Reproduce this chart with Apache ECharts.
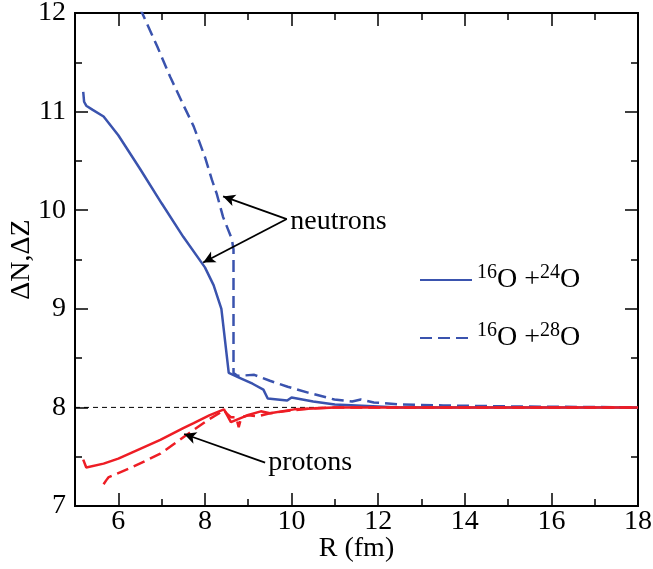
<!DOCTYPE html>
<html>
<head>
<meta charset="utf-8">
<script src="https://cdn.jsdelivr.net/npm/echarts@6/dist/echarts.min.js"></script>
<style>
html,body{margin:0;padding:0;background:#fff;}
#chart{width:653px;height:569px;}
</style>
</head>
<body>
<div id="chart"></div>
<script>
// ---- data ----
const R_n24  = [5.19, 5.21, 5.26, 5.40, 5.66, 6.00, 6.50, 7.00, 7.50, 8.00, 8.20, 8.38, 8.55, 8.80, 9.10, 9.35, 9.45, 9.90, 10.00, 10.50, 11.00, 11.50, 12.00, 12.50, 18.00];
const dN_24  = [11.20, 11.10, 11.06, 11.02, 10.95, 10.76, 10.42, 10.07, 9.73, 9.42, 9.24, 9.00, 8.35, 8.30, 8.24, 8.18, 8.09, 8.07, 8.10, 8.06, 8.03, 8.02, 8.01, 8.00, 8.00];

const R_n28  = [6.50, 6.90, 7.20, 7.50, 7.74, 8.00, 8.16, 8.27, 8.42, 8.62, 8.66, 8.66, 8.75, 9.14, 9.50, 9.91, 10.38, 10.99, 11.40, 11.60, 11.90, 12.50, 13.50, 15.00, 18.00];
const dN_28  = [12.05, 11.66, 11.35, 11.07, 10.85, 10.54, 10.31, 10.17, 9.93, 9.71, 9.60, 8.35, 8.32, 8.33, 8.27, 8.21, 8.15, 8.08, 8.06, 8.08, 8.05, 8.03, 8.02, 8.01, 8.00];

const R_p24  = [5.19, 5.26, 5.66, 6.00, 6.35, 6.97, 7.50, 7.74, 8.10, 8.44, 8.60, 8.98, 9.29, 9.50, 10.06, 10.50, 11.00, 12.00, 18.00];
const dZ_24  = [7.47, 7.39, 7.43, 7.48, 7.55, 7.67, 7.79, 7.84, 7.92, 7.98, 7.85, 7.92, 7.96, 7.94, 7.98, 7.99, 8.00, 8.00, 8.00];

const R_p28  = [5.66, 5.72, 5.77, 6.35, 6.97, 7.51, 8.06, 8.44, 8.52, 8.60, 8.72, 8.78, 8.84, 9.00, 9.22, 9.50, 10.00, 10.50, 11.00, 12.00, 18.00];
const dZ_28  = [7.22, 7.26, 7.29, 7.40, 7.53, 7.70, 7.87, 7.97, 7.93, 7.90, 7.90, 7.80, 7.90, 7.92, 7.91, 7.94, 7.97, 7.99, 8.00, 8.00, 8.00];

const refLine = [[5, 8], [18, 8]];

const xMajorTicks = [6, 8, 10, 12, 14, 16, 18];
const xMinorTicks = [5, 7, 9, 11, 13, 15, 17];
const yTickLabels = [7, 8, 9, 10, 11, 12];

const xTitle = 'R (fm)';
const yTitle = 'ΔN,ΔZ';
const seriesNames = ['n24', 'n28'];
const legendTexts = {
  n24: '{sup|16}{b|O +}{sup|24}{b|O}',
  n28: '{sup|16}{b|O +}{sup|28}{b|O}'
};

// annotations (data coordinates)
const neutronArrows = [
  [[9.89, 9.91], [8.42, 10.14]],
  [[9.89, 9.91], [7.96, 9.47]]
];
const protonArrow = [[9.39, 7.44], [7.52, 7.73]];
const neutronText = [9.97, 9.88];
const protonText  = [9.46, 7.44];

// ---- chart ----
const FONT = 'Liberation Serif';
const BLUE = '#3a53ae';
const RED  = '#ee1d25';
const zip = (a, b) => a.map((v, i) => [v, b[i]]);
const X_MIN = 5, X_MAX = 18, Y_MIN = 7, Y_MAX = 12;

const chart = echarts.init(document.getElementById('chart'));

const baseX = {
  type: 'value', min: X_MIN, max: X_MAX, interval: 1, gridIndex: 0,
  splitLine: {show: false},
  axisLine: {show: true, lineStyle: {color: '#000', width: 2}},
  axisLabel: {show: false}
};
const baseY = {
  type: 'value', min: Y_MIN, max: Y_MAX, interval: 1,
  splitLine: {show: false},
  axisLine: {show: true, lineStyle: {color: '#000', width: 2}},
  axisTick: {show: true, inside: true, length: 13, lineStyle: {color: '#000', width: 1.5}},
  minorTick: {show: true, splitNumber: 2, length: 7, lineStyle: {color: '#000', width: 1.5}},
  axisLabel: {show: false}
};

const arrowLines = neutronArrows.concat([protonArrow]).map(seg => [
  {coord: seg[0], symbol: 'none'},
  {coord: seg[1], symbol: 'arrow', symbolSize: [9, 12]}
]);

// all texts as markPoint labels anchored through the axes' scales
const textPoints = [
  {coord: neutronText, label: {formatter: 'neutrons', position: 'right', distance: 0}},
  {coord: protonText, label: {formatter: 'protons', position: 'right', distance: 0}}
];
xMajorTicks.forEach(v => textPoints.push({coord: [v, Y_MIN], label: {formatter: String(v), position: 'bottom', distance: 2}}));
yTickLabels.forEach(v => textPoints.push({coord: [X_MIN, v], label: {formatter: String(v), position: 'left', distance: 9}}));
textPoints.push({coord: [(X_MIN + X_MAX) / 2, Y_MIN], label: {formatter: xTitle, position: 'bottom', distance: 29}});
textPoints.push({coord: [X_MIN, (Y_MIN + Y_MAX) / 2], label: {formatter: yTitle, position: [-53, 0], align: 'center', verticalAlign: 'middle', rotate: 90}});

chart.setOption({
  animation: false,
  backgroundColor: '#fff',
  grid: {left: 75, right: 15, top: 13, bottom: 63, containLabel: false, outerBoundsMode: 'none'},
  xAxis: [
    Object.assign({}, baseX, {
      position: 'bottom',
      axisTick: {show: true, inside: true, length: 13, customValues: xMajorTicks, lineStyle: {color: '#000', width: 1.5}}
    }),
    Object.assign({}, baseX, {
      position: 'bottom',
      axisTick: {show: true, inside: true, length: 7, customValues: xMinorTicks, lineStyle: {color: '#000', width: 1.5}}
    }),
    Object.assign({}, baseX, {
      position: 'top',
      axisTick: {show: true, inside: true, length: 13, customValues: xMajorTicks, lineStyle: {color: '#000', width: 1.5}}
    }),
    Object.assign({}, baseX, {
      position: 'top',
      axisTick: {show: true, inside: true, length: 7, customValues: xMinorTicks, lineStyle: {color: '#000', width: 1.5}}
    })
  ],
  yAxis: [
    Object.assign({}, baseY, {position: 'left'}),
    Object.assign({}, baseY, {position: 'right'})
  ],
  legend: {
    data: seriesNames,
    orient: 'vertical',
    left: 414, top: 258,
    itemWidth: 52, itemHeight: 14, itemGap: 27,
    itemStyle: {opacity: 0},
    formatter: name => legendTexts[name],
    textStyle: {
      fontFamily: FONT, fontSize: 28, color: '#000',
      rich: {
        b: {fontFamily: FONT, fontSize: 28, color: '#000'},
        sup: {fontFamily: FONT, fontSize: 20, color: '#000', padding: [0, 0, 14, 0]}
      }
    }
  },
  series: [
    {
      name: 'ref', type: 'line', data: refLine, showSymbol: false, silent: true,
      lineStyle: {color: '#000', width: 1, type: [5, 4]}, z: 1,
      markLine: {
        silent: true, animation: false,
        lineStyle: {color: '#000', width: 1.8, type: 'solid'},
        label: {show: false},
        data: arrowLines
      },
      markPoint: {
        silent: true, symbol: 'circle', symbolSize: 0,
        label: {show: true, fontFamily: FONT, fontSize: 28, color: '#000'},
        data: textPoints
      }
    },
    {name: 'n24', type: 'line', data: zip(R_n24, dN_24), showSymbol: false, symbol: 'none',
     lineStyle: {color: BLUE, width: 2.5, type: 'solid'}, itemStyle: {color: BLUE}, z: 3},
    {name: 'n28', type: 'line', data: zip(R_n28, dN_28), showSymbol: false, symbol: 'none',
     lineStyle: {color: BLUE, width: 2.5, type: [12, 6]}, itemStyle: {color: BLUE}, z: 3},
    {name: 'p24', type: 'line', data: zip(R_p24, dZ_24), showSymbol: false, symbol: 'none',
     lineStyle: {color: RED, width: 2.5, type: 'solid'}, itemStyle: {color: RED}, z: 4},
    {name: 'p28', type: 'line', data: zip(R_p28, dZ_28), showSymbol: false, symbol: 'none',
     lineStyle: {color: RED, width: 2.5, type: [12, 6]}, itemStyle: {color: RED}, z: 4}
  ]
});
</script>
</body>
</html>
